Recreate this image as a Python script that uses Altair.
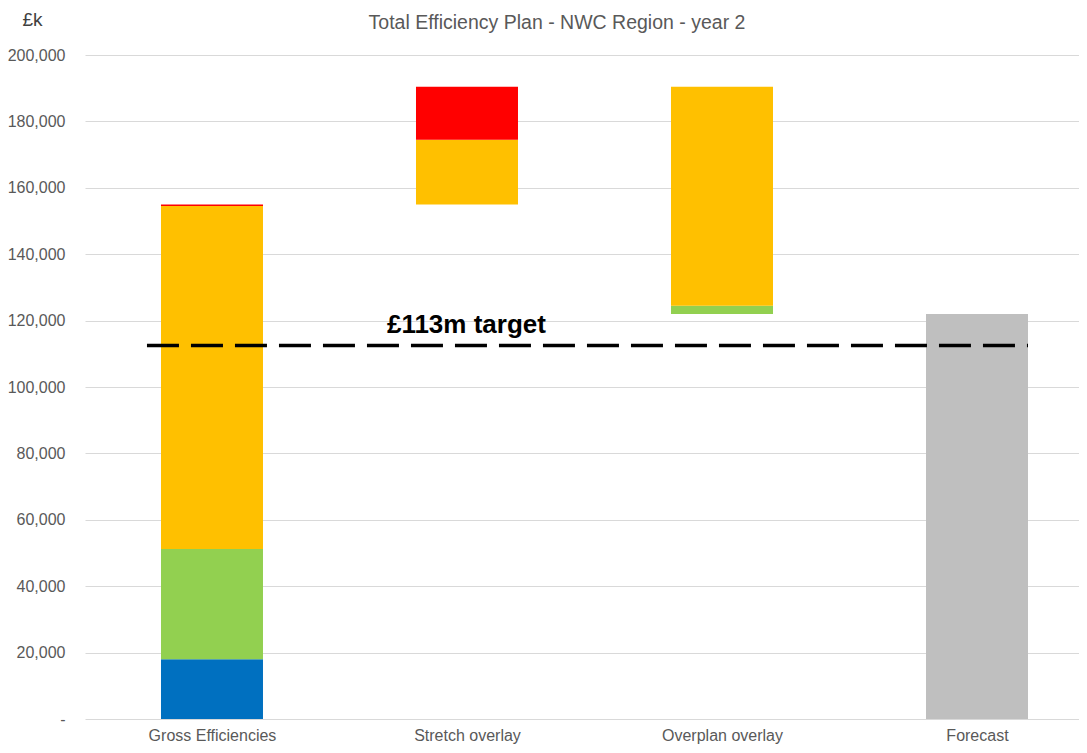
import altair as alt
import pandas as pd

# Categories (x axis)
categories = ["Gross Efficiencies", "Stretch overlay", "Overplan overlay", "Forecast"]

# Stacked / floating segments (£k)
seg_category = ["Gross Efficiencies", "Gross Efficiencies", "Gross Efficiencies", "Gross Efficiencies",
                "Stretch overlay", "Stretch overlay",
                "Overplan overlay", "Overplan overlay",
                "Forecast"]
seg_start = [0, 18000, 51200, 154500,
             155000, 174500,
             122000, 124500,
             0]
seg_end = [18000, 51200, 154500, 155000,
           174500, 190400,
           124500, 190400,
           122000]
seg_group = ["blue", "green", "amber", "red",
             "amber", "red",
             "green", "amber",
             "grey"]

target_value = 112500
target_label = "£113m target"
chart_title = "Total Efficiency Plan - NWC Region - year 2"

color_domain = ["blue", "green", "amber", "red", "grey"]
color_range = ["#0070C0", "#92D050", "#FFC000", "#FF0000", "#BFBFBF"]

FONT = "Liberation Sans"

bars_df = pd.DataFrame({
    "category": seg_category,
    "start": seg_start,
    "end": seg_end,
    "group": seg_group,
})
bars_df["pos"] = bars_df["category"].map({c: i for i, c in enumerate(categories)})
bars_df["x0"] = bars_df["pos"] - 0.2
bars_df["x1"] = bars_df["pos"] + 0.2

label_expr = " : ".join(
    [f"datum.value == {i} ? '{c}'" for i, c in enumerate(categories)]
) + " : ''"

x_scale = alt.Scale(domain=[-0.498, 3.4], nice=False, zero=False)
y_scale = alt.Scale(domain=[0, 200000], nice=False)

bars = alt.Chart(bars_df).mark_rect().encode(
    x=alt.X("x0:Q", scale=x_scale,
            axis=alt.Axis(values=[0, 1, 2, 3], labelExpr=label_expr, title=None,
                          grid=False, domain=False, ticks=False, labelPadding=8,
                          labelFontSize=16, labelColor="#595959", labelFont=FONT)),
    x2="x1:Q",
    y=alt.Y("start:Q", scale=y_scale,
            axis=alt.Axis(values=list(range(0, 200001, 20000)),
                          labelExpr="datum.value == 0 ? '-' : format(datum.value, ',')",
                          title="£k", titleAngle=0, titleAlign="left", titleBaseline="alphabetic",
                          titleX=-63, titleY=-30, titleFontSize=19, titleFontWeight="normal",
                          titleColor="#404040", titleFont=FONT,
                          grid=True, gridColor="#d9d9d9", domain=False, ticks=False,
                          labelPadding=20, labelFontSize=16, labelColor="#595959", labelFont=FONT)),
    y2="end:Q",
    color=alt.Color("group:N", scale=alt.Scale(domain=color_domain, range=color_range), legend=None),
)

target_df = pd.DataFrame({"y": [target_value], "x0": [-0.255], "x1": [3.2],
                          "label": [target_label], "lx": [0.686], "ly": [116300]})

rule = alt.Chart(target_df).mark_rule(color="black", strokeWidth=3.5, strokeDash=[32, 12]).encode(
    x=alt.X("x0:Q", scale=x_scale), x2="x1:Q", y=alt.Y("y:Q", scale=y_scale)
)

label = alt.Chart(target_df).mark_text(
    align="left", baseline="alphabetic", fontSize=26, fontWeight="bold", color="black", font=FONT
).encode(
    x=alt.X("lx:Q", scale=x_scale), y=alt.Y("ly:Q", scale=y_scale), text="label:N"
)

title_df = pd.DataFrame({"t": [chart_title]})
title = alt.Chart(title_df).mark_text(
    align="center", baseline="alphabetic", fontSize=19.5, font=FONT, color="#595959"
).encode(
    x=alt.value(472), y=alt.value(-26), text="t:N"
)

chart = alt.layer(bars, rule, label, title).properties(
    width=994,
    height=664,
    padding={"left": 77, "top": 47, "right": 0, "bottom": 26},
    autosize=alt.AutoSizeParams(type="none"),
).configure_view(stroke=None)

chart.save("out.html", embed_options={"renderer": "svg", "actions": False})
